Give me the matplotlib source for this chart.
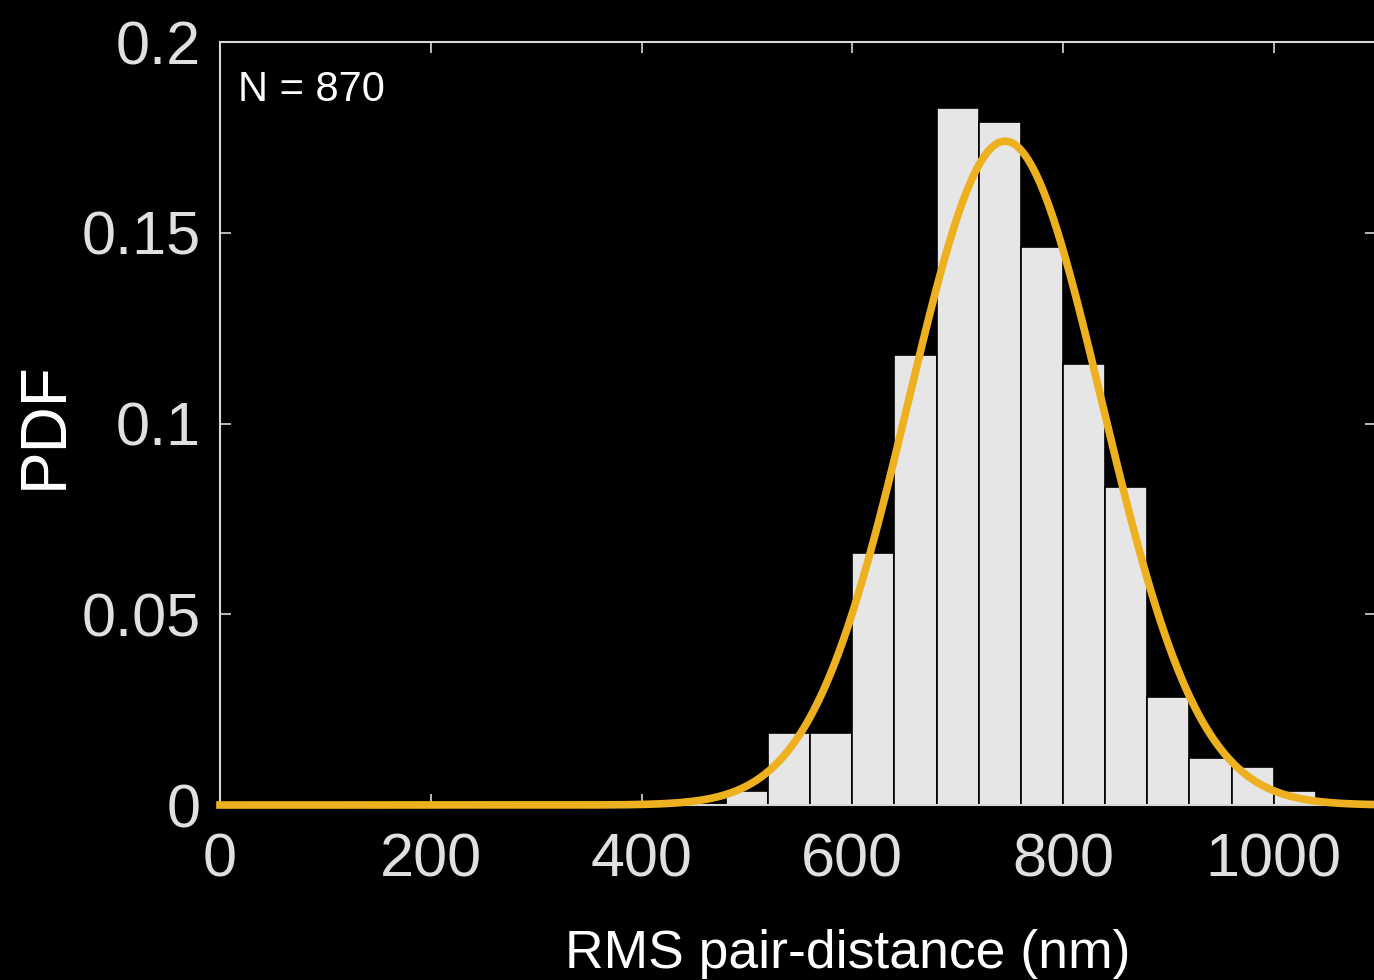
import numpy as np
import matplotlib
matplotlib.use("Agg")
import matplotlib.pyplot as plt

#%% data

bin_edges = [480, 520, 560, 600, 640, 680, 720, 760, 800, 840, 880, 920, 960, 1000, 1040]
bin_probs = [0.0037, 0.019, 0.019, 0.066, 0.118, 0.1827, 0.179, 0.1463,
             0.1156, 0.0834, 0.0283, 0.0123, 0.0100, 0.0037]

# gaussian fit shown on top of the histogram
fit_mean = 745.0
fit_sigma = 92.0
fit_peak = 0.174

n_label = "N = 870"

#%% plot

plt.rcParams['font.family'] = ['Liberation Sans', 'DejaVu Sans']

fig = plt.figure(figsize=(13.74, 9.8), dpi=100, facecolor='black')
ax = fig.add_axes([220/1374, 1 - 805/980, 1156/1374, 763/980], facecolor='black')

widths = np.diff(bin_edges)
ax.bar(bin_edges[:-1], bin_probs, width=widths, align='edge',
       color='#e6e6e6', edgecolor='black', linewidth=1.2, zorder=2)

xfit = np.linspace(0, 1100, 800)
yfit = fit_peak * np.exp(-0.5 * ((xfit - fit_mean) / fit_sigma) ** 2)
ax.plot(xfit, yfit, color='#EDB120', lw=5.5, zorder=3, clip_on=False)

ax.set_xlim(0, 1097)
ax.set_ylim(0, 0.2)
ax.set_xticks([0, 200, 400, 600, 800, 1000])
ax.set_yticks([0, 0.05, 0.1, 0.15, 0.2])
ax.set_yticklabels(['0', '0.05', '0.1', '0.15', '0.2'])

for s in ax.spines.values():
    s.set_color('#d8d8d8')
    s.set_linewidth(1.5)

ax.tick_params(direction='in', length=8, width=1.2, color='#d8d8d8',
               labelcolor='#e0e0e0', labelsize=44, top=True, right=True)
ax.tick_params(axis='x', pad=20)
ax.tick_params(axis='y', pad=14)

ax.set_xlabel('RMS pair-distance (nm)', color='white', fontsize=38.5)
ax.xaxis.set_label_coords(628/1156, -0.162)
ax.set_ylabel('PDF', color='white', fontsize=46)
ax.yaxis.set_label_coords(-145/1156, 0.498)

ax.text(18/1156, 0.963, n_label, transform=ax.transAxes, color='white',
        fontsize=30, ha='left', va='top')

fig.savefig('out.png', dpi=100, facecolor='black')
